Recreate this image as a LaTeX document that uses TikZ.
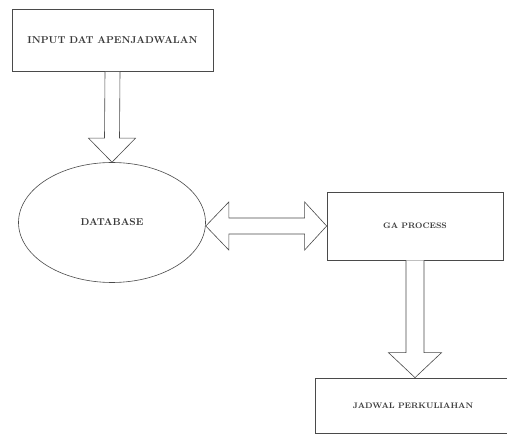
\documentclass[tikz,border=0pt]{standalone}
\usepackage{tikz}
\usetikzlibrary{shapes.geometric, calc}
\definecolor{ScanGray}{HTML}{4A4A4A}
\definecolor{ScanText}{HTML}{3A3A3A}
\tikzset{
    % boxes
    databox/.style={
        rectangle,
        draw=ScanGray,
        line width=0.7pt,
        align=center,
        text=ScanText,
        font=\bfseries
    },
    store/.style={
        ellipse,
        draw=ScanGray,
        line width=0.6pt,
        minimum width=187pt,
        minimum height=120pt,
        inner sep=0pt,
        text=ScanText,
        font=\bfseries
    },
    % hollow block arrows
    hollow/.style={
        draw=ScanGray,
        line width=0.6pt,
        fill=white,
        line join=miter
    }
}
\begin{document}
\begin{tikzpicture}[x=1pt, y=1pt]
    \useasboundingbox (0,0) rectangle (507,437);

    \node[databox, minimum width=201pt, minimum height=62pt] (inp) at (112.5,396.5) {INPUT DAT APENJADWALAN};
    \node[store] (db) at (112,214.5) {DATABASE};
    \node[databox, minimum width=176pt, minimum height=68pt, font=\footnotesize\bfseries] (ga) at (415,211) {GA PROCESS};
    \node[databox, minimum width=196pt, minimum height=55pt, font=\footnotesize\bfseries] (jad) at (413,31.5) {JADWAL PERKULIAHAN};

    % input -> database
    \draw[hollow] ($(inp.south)+(-7.5,0)$) -- ($(db.north)+(-7.5,24)$) -- ++(-16,0)
        -- (db.north) -- ++(23.5,24) -- ++(-16,0) -- ($(inp.south)+(7.5,0)$);

    % database <-> GA process
    \coordinate (dbtip) at (db.east |- ga.west);
    \draw[hollow] (dbtip) -- ++(23,24) -- ++(0,-16) -- ($(ga.west)+(-22,8)$) -- ++(0,16)
        -- (ga.west) -- ++(-22,-24) -- ++(0,16) -- ($(dbtip)+(23,-8)$) -- ++(0,-16) -- cycle;

    % GA process -> jadwal
    \coordinate (jadtip) at (ga.south |- jad.north);
    \draw[hollow] ($(ga.south)+(-9,0)$) -- ($(jadtip)+(-9,25)$) -- ++(-17.5,0)
        -- (jadtip) -- ++(26.5,25) -- ++(-17.5,0) -- ($(ga.south)+(9,0)$);
\end{tikzpicture}
\end{document}
